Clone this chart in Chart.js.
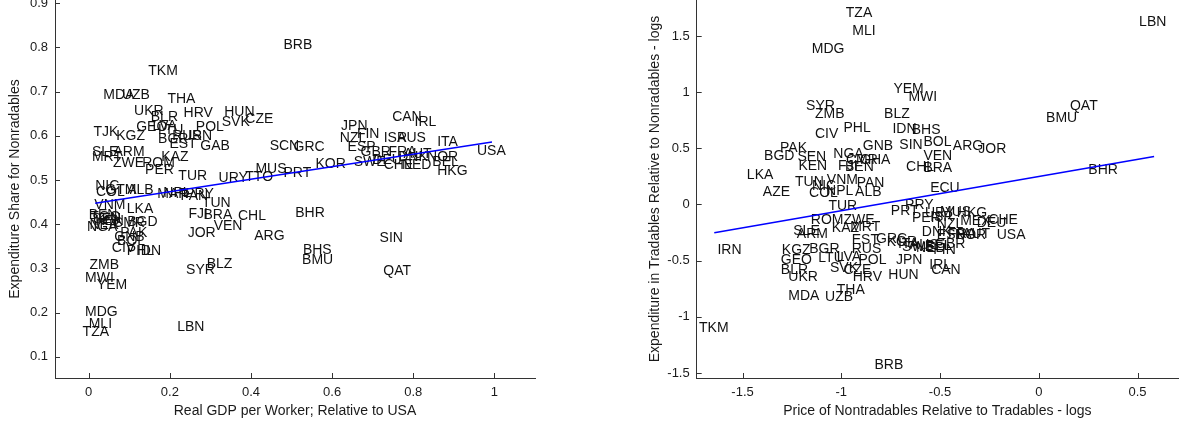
<!DOCTYPE html>
<html>
<head>
<meta charset="utf-8">
<script src="https://cdn.jsdelivr.net/npm/chart.js@4.4.0/dist/chart.umd.min.js"></script>
<style>
  html, body { margin: 0; padding: 0; background: #fff; }
  #wrap { position: relative; width: 1182px; height: 425px; overflow: hidden; }
  #gdpChart { position: absolute; left: 0; top: 0; }
  #priceChart { position: absolute; left: 620px; top: 0; }
</style>
</head>
<body>
<div id="wrap">
  <canvas id="gdpChart" width="560" height="425"></canvas>
  <canvas id="priceChart" width="562" height="425"></canvas>
</div>
<script>
// Left panel: expenditure share vs real GDP per worker
const gdpCodes = ["TKM","BRB","MDA","UZB","THA","UKR","BLR","HRV","HUN","SVK","CZE","TJK","KGZ","GEO","LVA","LTU","BGR","RUS","IRN","EST","POL","GAB","SCN","GRC","JPN","FIN","NZL","ESP","GBR","ISR","AUS","CAN","IRL","ITA","USA","NOR","BEL","HKG","FRA","AUT","DNK","SWE","DEU","CHE","NED","KOR","PRT","MUS","TTO","URY","TUR","KAZ","ROM","PER","ZWE","ARM","SLE","MRT","NIC","COL","GTM","ALB","MAR","NPL","PAN","PRY","TUN","VNM","LKA","BEN","TGO","SEN","KEN","NGA","NER","CMR","BGD","PAK","GNB","BOL","CIV","PHL","IDN","ZMB","MWI","YEM","MDG","MLI","TZA","LBN","SYR","BLZ","JOR","VEN","FJI","BRA","CHL","ARG","BHR","BHS","BMU","SIN","QAT"];
const gdpX = [0.147,0.480,0.036,0.082,0.194,0.112,0.153,0.234,0.334,0.328,0.386,0.012,0.068,0.117,0.157,0.171,0.171,0.206,0.245,0.199,0.264,0.275,0.446,0.505,0.622,0.661,0.619,0.638,0.670,0.727,0.760,0.748,0.803,0.859,0.957,0.834,0.847,0.859,0.739,0.776,0.763,0.653,0.699,0.727,0.772,0.559,0.480,0.411,0.386,0.320,0.221,0.179,0.132,0.139,0.060,0.061,0.008,0.008,0.016,0.018,0.041,0.095,0.169,0.184,0.226,0.238,0.279,0.014,0.094,0.000,0.004,0.009,0.016,-0.004,0.002,0.060,0.095,0.078,0.063,0.070,0.057,0.094,0.119,0.002,-0.009,0.020,-0.009,0.000,-0.015,0.218,0.240,0.291,0.244,0.308,0.246,0.283,0.368,0.408,0.509,0.528,0.526,0.717,0.726];
const gdpY = [0.747,0.805,0.692,0.692,0.683,0.656,0.643,0.652,0.654,0.631,0.638,0.607,0.598,0.620,0.622,0.613,0.592,0.599,0.599,0.581,0.620,0.577,0.577,0.574,0.622,0.603,0.594,0.575,0.564,0.594,0.594,0.641,0.630,0.586,0.566,0.551,0.540,0.521,0.563,0.558,0.552,0.541,0.545,0.533,0.533,0.536,0.515,0.524,0.506,0.503,0.509,0.552,0.538,0.522,0.537,0.564,0.563,0.552,0.486,0.472,0.477,0.477,0.468,0.470,0.463,0.468,0.448,0.443,0.433,0.420,0.415,0.411,0.407,0.394,0.398,0.402,0.404,0.380,0.371,0.362,0.346,0.339,0.339,0.307,0.279,0.262,0.200,0.174,0.155,0.166,0.296,0.310,0.380,0.395,0.423,0.420,0.417,0.373,0.424,0.341,0.319,0.368,0.294];
const gdpFitX = [0.016, 0.994];
const gdpFitY = [0.4475, 0.586];
const gdpXTicks = [0, 0.2, 0.4, 0.6, 0.8, 1];
const gdpYTicks = [0.1, 0.2, 0.3, 0.4, 0.5, 0.6, 0.7, 0.8, 0.9];

// Right panel: expenditure ratio vs relative price (logs)
const priceCodes = ["TZA","MLI","MDG","YEM","MWI","SYR","ZMB","BLZ","PHL","CIV","IDN","BHS","GNB","SIN","BOL","ARG","JOR","VEN","CHL","BRA","ECU","QAT","BMU","BHR","LBN","PAK","BGD","SEN","KEN","NGA","CMR","GHA","BEN","FJI","LKA","TUN","VNM","PAN","NIC","AZE","COL","NPL","ALB","TUR","ROM","ZWE","KAZ","MRT","SLE","ARM","IRN","KGZ","BGR","GEO","LTU","LVA","POL","EST","RUS","GRC","KOR","BLR","UKR","SVK","CZE","HRV","HUN","JPN","THA","MDA","UZB","TKM","BRB","PRT","PRY","MUS","HKG","URY","ISR","PER","NZL","DEU","CHE","MEX","DNK","ESP","FRA","NOR","AUT","USA","ITA","SWE","AUS","NED","BEL","GBR","FIN","IRL","CAN"];
const priceX = [-0.977,-0.944,-1.149,-0.736,-0.660,-1.178,-1.133,-0.783,-0.989,-1.133,-0.741,-0.643,-0.891,-0.706,-0.584,-0.435,-0.306,-0.584,-0.672,-0.584,-0.550,0.158,0.037,0.251,0.508,-1.310,-1.391,-1.222,-1.217,-1.040,-0.976,-0.905,-0.981,-1.016,-1.478,-1.234,-1.073,-0.922,-1.148,-1.397,-1.163,-1.077,-0.930,-1.065,-1.154,-0.989,-1.048,-0.955,-1.243,-1.225,-1.627,-1.301,-1.162,-1.306,-1.116,-1.023,-0.913,-0.947,-0.947,-0.824,-0.770,-1.306,-1.268,-1.057,-0.989,-0.942,-0.762,-0.723,-1.023,-1.268,-1.082,-1.720,-0.832,-0.749,-0.677,-0.500,-0.415,-0.576,-0.550,-0.642,-0.516,-0.314,-0.255,-0.398,-0.592,-0.516,-0.459,-0.424,-0.388,-0.213,-0.713,-0.692,-0.652,-0.621,-0.576,-0.525,-0.534,-0.554,-0.545];
const priceY = [1.702,1.542,1.385,1.029,0.955,0.872,0.801,0.801,0.682,0.629,0.673,0.665,0.516,0.525,0.554,0.519,0.496,0.430,0.332,0.323,0.145,0.872,0.771,0.302,1.622,0.501,0.427,0.421,0.341,0.445,0.391,0.391,0.329,0.338,0.264,0.198,0.214,0.190,0.160,0.109,0.101,0.116,0.109,-0.018,-0.136,-0.136,-0.211,-0.202,-0.238,-0.261,-0.403,-0.403,-0.394,-0.498,-0.474,-0.469,-0.492,-0.320,-0.394,-0.305,-0.335,-0.587,-0.647,-0.563,-0.581,-0.647,-0.632,-0.492,-0.765,-0.818,-0.825,-1.101,-1.432,-0.060,-0.009,-0.069,-0.074,-0.080,-0.116,-0.125,-0.172,-0.166,-0.142,-0.151,-0.249,-0.276,-0.261,-0.276,-0.267,-0.270,-0.356,-0.383,-0.365,-0.391,-0.374,-0.356,-0.409,-0.536,-0.581];
const priceFitX = [-1.643, 0.584];
const priceFitY = [-0.252, 0.427];
const priceXTicks = [-1.5, -1, -0.5, 0, 0.5];
const priceYTicks = [-1.5, -1, -0.5, 0, 0.5, 1, 1.5];

const FONT = '"Liberation Sans", Arial, sans-serif';
const TEXT = '#1a1a1a';
const AXIS = '#333';

// country codes written at each point (left edge, vertically centred)
const countryLabels = {
  id: 'countryLabels',
  beforeDatasetsDraw(chart) {
    const ds = chart.data.datasets[0];
    const meta = chart.getDatasetMeta(0);
    const ctx = chart.ctx;
    ctx.save();
    ctx.font = '14px ' + FONT;
    ctx.fillStyle = '#111';
    ctx.textAlign = 'left';
    ctx.textBaseline = 'middle';
    meta.data.forEach((pt, i) => {
      ctx.fillText(ds.data[i].code, pt.x, pt.y);
    });
    ctx.restore();
  }
};

// matlab style ticks pointing into the plot
const inwardTicks = {
  id: 'inwardTicks',
  afterDraw(chart) {
    const { ctx, chartArea, scales } = chart;
    ctx.save();
    ctx.strokeStyle = AXIS;
    ctx.lineWidth = 1;
    ctx.beginPath();
    scales.x.ticks.forEach(t => {
      const px = Math.round(scales.x.getPixelForValue(t.value)) + 0.5;
      ctx.moveTo(px, chartArea.bottom);
      ctx.lineTo(px, chartArea.bottom - 5);
    });
    scales.y.ticks.forEach(t => {
      const py = Math.round(scales.y.getPixelForValue(t.value)) + 0.5;
      ctx.moveTo(chartArea.left, py);
      ctx.lineTo(chartArea.left + 5, py);
    });
    ctx.stroke();
    ctx.restore();
  }
};

function makeChart(id, cfg) {
  const points = cfg.codes.map((c, i) => ({ x: cfg.xs[i], y: cfg.ys[i], code: c }));
  const fit = cfg.fitX.map((x, i) => ({ x: x, y: cfg.fitY[i] }));

  return new Chart(document.getElementById(id), {
    type: 'scatter',
    data: {
      datasets: [
        { data: points, pointRadius: 0, pointHoverRadius: 0 },
        { data: fit, showLine: true, borderColor: '#0000ff', borderWidth: 1.5, pointRadius: 0, fill: false }
      ]
    },
    options: {
      responsive: false,
      animation: false,
      events: [],
      layout: { padding: { left: 0, top: 0, right: cfg.padRight, bottom: 0 } },
      plugins: { legend: { display: false }, tooltip: { enabled: false } },
      scales: {
        x: {
          type: 'linear',
          min: cfg.xMin,
          max: cfg.xMax,
          afterBuildTicks: s => { s.ticks = cfg.xTicks.map(v => ({ value: v })); },
          afterFit: s => { s.height = 47; s.paddingLeft = 0; s.paddingRight = 0; },
          grid: { display: false, drawTicks: false },
          border: { display: true, color: AXIS, width: 1 },
          ticks: { color: TEXT, font: { family: FONT, size: 13 }, padding: 7, maxRotation: 0, autoSkip: false, callback: v => String(v) },
          title: { display: true, text: cfg.xTitle, color: TEXT, font: { family: FONT, size: 14 }, padding: { top: 0, bottom: 5 } }
        },
        y: {
          type: 'linear',
          min: cfg.yMin,
          max: cfg.yMax,
          afterBuildTicks: s => { s.ticks = cfg.yTicks.map(v => ({ value: v })); },
          afterFit: s => { s.width = cfg.yWidth; s.paddingTop = 0; s.paddingBottom = 0; },
          grid: { display: false, drawTicks: false },
          border: { display: true, color: AXIS, width: 1 },
          ticks: { color: TEXT, font: { family: FONT, size: 13 }, padding: 7, autoSkip: false, callback: v => String(v) },
          title: { display: true, text: cfg.yTitle, color: TEXT, font: { family: FONT, size: 14 }, padding: { top: cfg.yTitlePad, bottom: 0 } }
        }
      }
    },
    plugins: [countryLabels, inwardTicks]
  });
}

makeChart('gdpChart', {
  codes: gdpCodes, xs: gdpX, ys: gdpY, fitX: gdpFitX, fitY: gdpFitY,
  xTicks: gdpXTicks, yTicks: gdpYTicks,
  xMin: -0.083, xMax: 1.1, yMin: 0.052, yMax: 0.907,
  yWidth: 55, padRight: 25, yTitlePad: 6.6,
  xTitle: 'Real GDP per Worker; Relative to USA',
  yTitle: 'Expenditure Share for Nonradables'
});

makeChart('priceChart', {
  codes: priceCodes, xs: priceX, ys: priceY, fitX: priceFitX, fitY: priceFitY,
  xTicks: priceXTicks, yTicks: priceYTicks,
  xMin: -1.732, xMax: 0.705, yMin: -1.545, yMax: 1.82,
  yWidth: 76.7, padRight: 4, yTitlePad: 26.6,
  xTitle: 'Price of Nontradables Relative to Tradables - logs',
  yTitle: 'Expenditure in Tradables Relative to Nonradables - logs'
});
</script>
</body>
</html>
